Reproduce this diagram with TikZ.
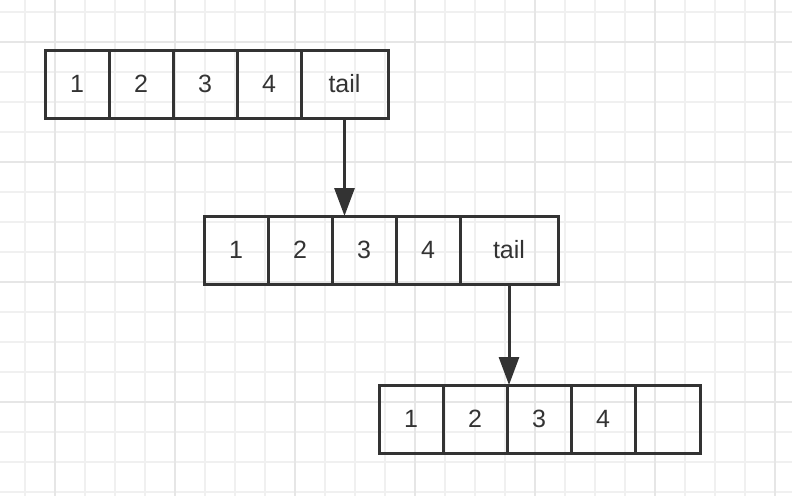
\documentclass[tikz,border=0pt]{standalone}
\usepackage{fontspec}
\setmainfont{Liberation Sans}
\usepackage{xcolor}
\usetikzlibrary{arrows.meta}
\definecolor{ink}{HTML}{333333}
\definecolor{gridminor}{HTML}{F0F0F0}
\definecolor{gridmajor}{HTML}{E6E6E6}

\begin{document}
\begin{tikzpicture}[x=1pt,y=-1pt,
  cell/.style={rectangle,draw=ink,line width=3pt,text=ink,inner sep=0pt,outer sep=0pt,
    minimum width=64pt,minimum height=68pt,font=\fontsize{25}{28}\selectfont},
  link/.style={draw=ink,line width=3pt,-{Triangle[length=28pt,width=20pt]}},
  minor/.style={gridminor,line width=1.5pt},
  major/.style={gridmajor,line width=1.5pt}]
\useasboundingbox[fill=white] (0,0) rectangle (792,496);
% background grid
\foreach \x in {25,55,...,775} \draw[minor] (\x,0) -- (\x,496);
\foreach \y in {12,42,...,492} \draw[minor] (0,\y) -- (792,\y);
\foreach \x in {55,175,...,775} \draw[major] (\x,0) -- (\x,496);
\foreach \y in {42,162,...,402} \draw[major] (0,\y) -- (792,\y);
% first list
\node (a1) at (77,84) [cell] {1};
\node (a2) at (141,84) [cell] {2};
\node (a3) at (205,84) [cell] {3};
\node (a4) at (269,84) [cell] {4};
\node (a5) at (344.5,84) [cell,minimum width=87pt] {tail};
% second list
\node (b1) at (236,250) [cell] {1};
\node (b2) at (300,250) [cell] {2};
\node (b3) at (364,250) [cell] {3};
\node (b4) at (428,250) [cell] {4};
\node (b5) at (509,250) [cell,minimum width=98pt] {tail};
% third list
\node (c1) at (411,419) [cell] {1};
\node (c2) at (475,419) [cell] {2};
\node (c3) at (539,419) [cell] {3};
\node (c4) at (603,419) [cell] {4};
\node (c5) at (667.5,419) [cell,minimum width=65pt] {};
\draw[link] (a5.south) -- (a5.south |- b3.north);
\draw[link] (b5.south) -- (b5.south |- c3.north);
\end{tikzpicture}
\end{document}
